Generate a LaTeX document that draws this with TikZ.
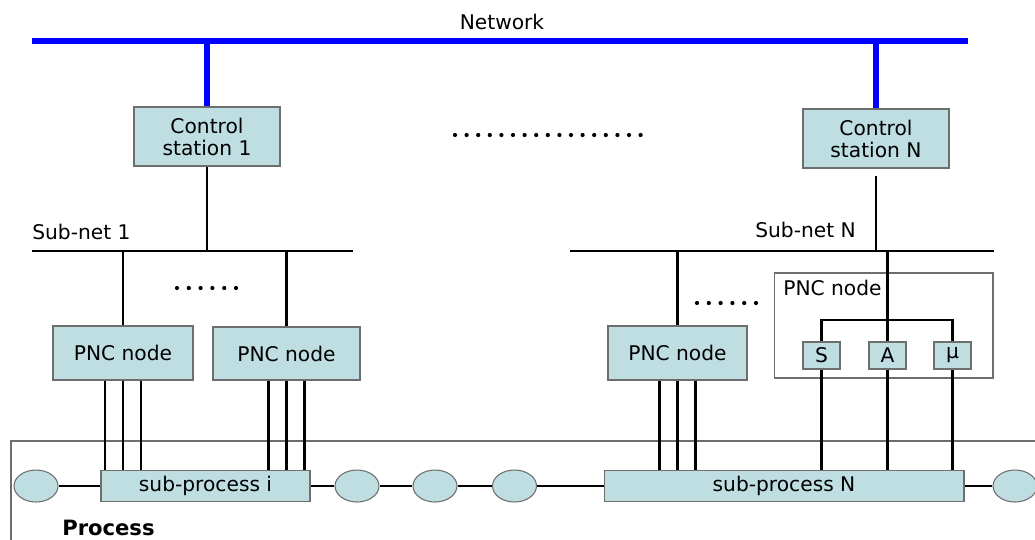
\documentclass[tikz,border=0pt]{standalone}
\usepackage{fontspec}
\setmainfont{DejaVu Sans}
\usetikzlibrary{shapes.geometric}
\definecolor{boxfill}{RGB}{190,222,226}
\definecolor{boxline}{RGB}{110,110,110}
\definecolor{netblue}{RGB}{0,0,255}
\tikzset{
	box/.style={draw=boxline, fill=boxfill, inner sep=0pt, line width=0.6pt},
	blob/.style={ellipse, draw=boxline, fill=boxfill, minimum width=0.88cm, minimum height=0.64cm, inner sep=0pt, line width=0.6pt},
	wire/.style={line width=1.25pt},
	netline/.style={netblue, line width=3.4pt},
	lbl/.style={inner sep=0pt}
}
\begin{document}
\begin{tikzpicture}[x=0.02cm, y=-0.02cm, font=\fontsize{11.5}{12.5}\selectfont]
			\useasboundingbox (0,0) rectangle (1035,539);
			
			\node[lbl] (netlbl) at (502,22) {Network};
			\coordinate (net-l) at (32,41); \coordinate (net-r) at (968,41);
			\draw[netline] (net-l) -- (net-r);
			
			\node[box, minimum width=2.92cm, minimum height=1.18cm, align=center] (cs1) at (207,136.5) {Control\\station 1};
			\node[box, minimum width=2.92cm, minimum height=1.18cm, align=center] (csN) at (876,138.5) {Control\\station N};
			\draw[netline] (cs1.north) -- (cs1.north |- net-l);
			\draw[netline] (csN.north) -- (csN.north |- net-l);
			
			\foreach \i in {0,...,16} \fill (455+\i*11.6,135) circle (1.2pt);
			
			\node[lbl, anchor=west] (sn1lbl) at (32,232) {Sub-net 1};
			\coordinate (sn1-l) at (32,251); \coordinate (sn1-r) at (353,251);
			\draw[wire] (sn1-l) -- (sn1-r);
			\draw[wire] (cs1.south) -- (cs1.south |- sn1-l);
			
			\node[lbl, anchor=west] (snNlbl) at (755,230) {Sub-net N};
			\coordinate (snN-l) at (570,251); \coordinate (snN-r) at (994,251);
			\draw[wire] (snN-l) -- (snN-r);
			\draw[wire] ([yshift=-4pt]csN.south) -- (csN.south |- snN-l);
			
			\node[box, minimum width=2.8cm, minimum height=1.08cm] (p1) at (123,353) {PNC node};
			\node[box, minimum width=2.94cm, minimum height=1.06cm] (p2) at (286.5,353.5) {PNC node};
			\node[box, minimum width=2.78cm, minimum height=1.08cm] (p3) at (677.5,353) {PNC node};
			\draw[wire] (p1.north) -- (p1.north |- sn1-l);
			\draw[wire] (p2.north) -- (p2.north |- sn1-l);
			\draw[wire] (p3.north) -- (p3.north |- snN-l);
			\foreach \i in {0,...,5} \fill (177+\i*11.8,288) circle (1.2pt);
			\foreach \i in {0,...,5} \fill (697+\i*11.8,303) circle (1.2pt);
			
			\node[draw=boxline, line width=0.6pt, minimum width=4.38cm, minimum height=2.1cm] (pbig) at (883.5,325.5) {};
			\node[lbl, anchor=west] (pbiglbl) at (783,288) {PNC node};
			\node[box, minimum width=0.74cm, minimum height=0.54cm] (s) at (821.5,355.5) {S};
			\node[box, minimum width=0.74cm, minimum height=0.54cm] (a) at (887.5,355.5) {A};
			\node[box, minimum width=0.74cm, minimum height=0.54cm] (mu) at (952.5,355.5) {μ};
			\coordinate (br) at (887.5,320);
			\draw[wire] (s.north) |- (br) -| (mu.north);
			\draw[wire] (a.north |- snN-l) -- (a.north);
			
			\draw[boxline, line width=0.6pt] (11,560) |- (1050,441);
			\node[box, minimum width=4.18cm, minimum height=0.62cm] (spi) at (205.5,486) {sub-process i};
			\node[box, minimum width=7.2cm, minimum height=0.62cm] (spN) at (784,486) {sub-process N};
			\node[blob] (e1) at (36,486) {};
			\node[blob] (e2) at (357,486) {};
			\node[blob] (e3) at (435,486) {};
			\node[blob] (e4) at (514.5,486) {};
			\node[blob] (e5) at (1015,486) {};
			\draw[wire] (e1) -- (spi) -- (e2) -- (e3) -- (e4) -- (spN) -- (e5);
			
			\foreach \n/\t in {p1/spi,p2/spi,p3/spN}
			\foreach \d in {-18,0,18}
			\draw[wire] (\n.south) ++(\d,0) coordinate (w) -- (w |- \t.north);
			\foreach \n in {s,a,mu}
			\draw[wire] (\n.south) -- (\n.south |- spN.north);
			
			\node[lbl, anchor=west, font=\fontsize{12}{14}\selectfont\bfseries] (proclbl) at (62,528) {Process};
			\end{tikzpicture}
\end{document}
